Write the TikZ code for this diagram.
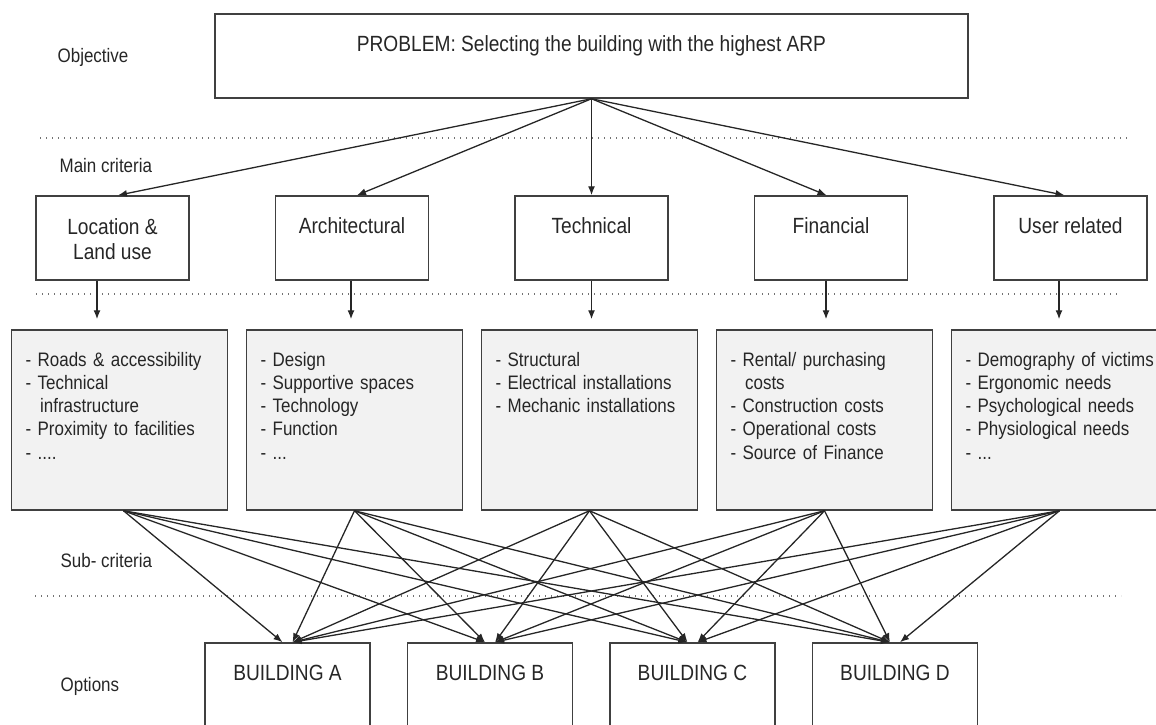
\documentclass[tikz,border=0pt]{standalone}
\usepackage{fontspec}
\setmainfont[FakeStretch=0.87]{Liberation Sans}
\usetikzlibrary{positioning,arrows.meta}

\begin{document}
\begin{tikzpicture}[x=1pt, y=-1pt, line width=1.3pt, draw=black!85, >={Latex[length=9pt,width=7pt]},
        every node/.style = {text=black!85},
        big/.style = {font=\fontsize{22}{25}\selectfont},
        small/.style = {font=\fontsize{19.5}{23.3}\selectfont},
        box/.style = {draw=black!75, line width=1.5pt, inner ysep=0pt, text height=37.5pt, text depth=46.5pt, align=center, big},
        main/.style = {box, minimum width=153pt, node distance=239.5pt},
        sub/.style = {draw=black!75, line width=1.5pt, fill=black!5, inner xsep=14pt, inner ysep=0pt, text width=188pt, text height=36pt, text depth=144pt, align=left, small, node distance=235pt},
        bldg/.style = {box, minimum width=165pt, node distance=202.5pt},
        level/.style = {anchor=base west, inner sep=0pt, small},
        sep/.style = {draw=black!55, line width=1.6pt, dash pattern=on 1.4pt off 4.6pt}]
        \useasboundingbox (0,0) rectangle (1156,724);
        % levels
        \node[level] (obj) at (57,62) {Objective};
        \node[level] (mc) at (59,172) {Main criteria};
        \node[level] (sc) at (60,567) {Sub- criteria};
        \node[level] (opt) at (60,691) {Options};
        \draw[sep] (40,138) -- (1127,138);
        \draw[sep] (36,294) -- (1121,294);
        \draw[sep] (35,596) -- (1121,596);
        % problem
        \node[box, minimum width=753pt] (top) at (591.5,56) {PROBLEM: Selecting the building with the highest ARP};
        % main criteria
        \node[main, text height=63pt, text depth=21pt] (loc) at (112.5,238) {Location \&\\Land use};
        \node[main] (arch) [right of=loc] {Architectural};
        \node[main] (tech) [right of=arch] {Technical};
        \node[main] (fin) [right of=tech] {Financial};
        \node[main] (user) [right of=fin] {User related};
        % sub-criteria
        \node[sub] (sloc) at (119.5,420) {- Roads \& accessibility\\- Technical\\\hspace*{0.75em}infrastructure\\- Proximity to facilities\\- ....};
        \node[sub] (sarch) [right of=sloc] {- Design\\- Supportive spaces\\- Technology\\- Function\\- ...};
        \node[sub] (stech) [right of=sarch] {- Structural\\- Electrical installations\\- Mechanic installations};
        \node[sub] (sfin) [right of=stech] {- Rental/ purchasing\\\hspace*{0.75em}costs\\- Construction costs\\- Operational costs\\- Source of Finance};
        \node[sub] (suser) [right of=sfin] {\mbox{- Demography of victims}\\- Ergonomic needs\\- Psychological needs\\- Physiological needs\\- ...};
        % options
        \node[bldg] (ba) at (287.5,685) {BUILDING A};
        \node[bldg] (bb) [right of=ba] {BUILDING B};
        \node[bldg] (bc) [right of=bb] {BUILDING C};
        \node[bldg] (bd) [right of=bc] {BUILDING D};
        % problem -> main criteria
        \draw[->] (top.south) -- ([xshift=5.5pt]loc.north);
        \draw[->] (top.south) -- ([xshift=5pt]arch.north);
        \draw[->] (top.south) -- (tech.north);
        \draw[->] (top.south) -- ([xshift=-4.5pt]fin.north);
        \draw[->] (top.south) -- ([xshift=-6pt]user.north);
        % main -> sub
        \draw[->, shorten >=10pt] ([xshift=-15.5pt]loc.south) -- ([xshift=-15.5pt]loc.south |- sloc.north);
        \draw[->, shorten >=10pt] ([xshift=-1pt]arch.south) -- ([xshift=-1pt]arch.south |- sarch.north);
        \draw[->, shorten >=10pt] (tech.south) -- (tech.south |- stech.north);
        \draw[->, shorten >=10pt] ([xshift=-5pt]fin.south) -- ([xshift=-5pt]fin.south |- sfin.north);
        \draw[->, shorten >=10pt] ([xshift=-11.5pt]user.south) -- ([xshift=-11.5pt]user.south |- suser.north);
        % sub -> options
        \draw[->] ([xshift=4pt]sloc.south) -- ([xshift=-5pt]ba.north);
        \draw[->] ([xshift=4pt]sloc.south) -- ([xshift=-5pt]bb.north);
        \draw[->] ([xshift=4pt]sloc.south) -- ([xshift=-5pt]bc.north);
        \draw[->] ([xshift=4pt]sloc.south) -- ([xshift=-5pt]bd.north);
        \draw[->] (sarch.south) -- ([xshift=5pt]ba.north);
        \draw[->] (sarch.south) -- ([xshift=-5pt]bb.north);
        \draw[->] (sarch.south) -- ([xshift=-5pt]bc.north);
        \draw[->] (sarch.south) -- ([xshift=-5pt]bd.north);
        \draw[->] (stech.south) -- ([xshift=5pt]ba.north);
        \draw[->] (stech.south) -- ([xshift=5pt]bb.north);
        \draw[->] (stech.south) -- ([xshift=-5pt]bc.north);
        \draw[->] (stech.south) -- ([xshift=-5pt]bd.north);
        \draw[->] (sfin.south) -- ([xshift=5pt]ba.north);
        \draw[->] (sfin.south) -- ([xshift=5pt]bb.north);
        \draw[->] (sfin.south) -- ([xshift=5pt]bc.north);
        \draw[->] (sfin.south) -- ([xshift=-5pt]bd.north);
        \draw[->] (suser.south) -- ([xshift=5pt]ba.north);
        \draw[->] (suser.south) -- ([xshift=5pt]bb.north);
        \draw[->] (suser.south) -- ([xshift=5pt]bc.north);
        \draw[->] (suser.south) -- ([xshift=5pt]bd.north);
    \end{tikzpicture}
\end{document}
